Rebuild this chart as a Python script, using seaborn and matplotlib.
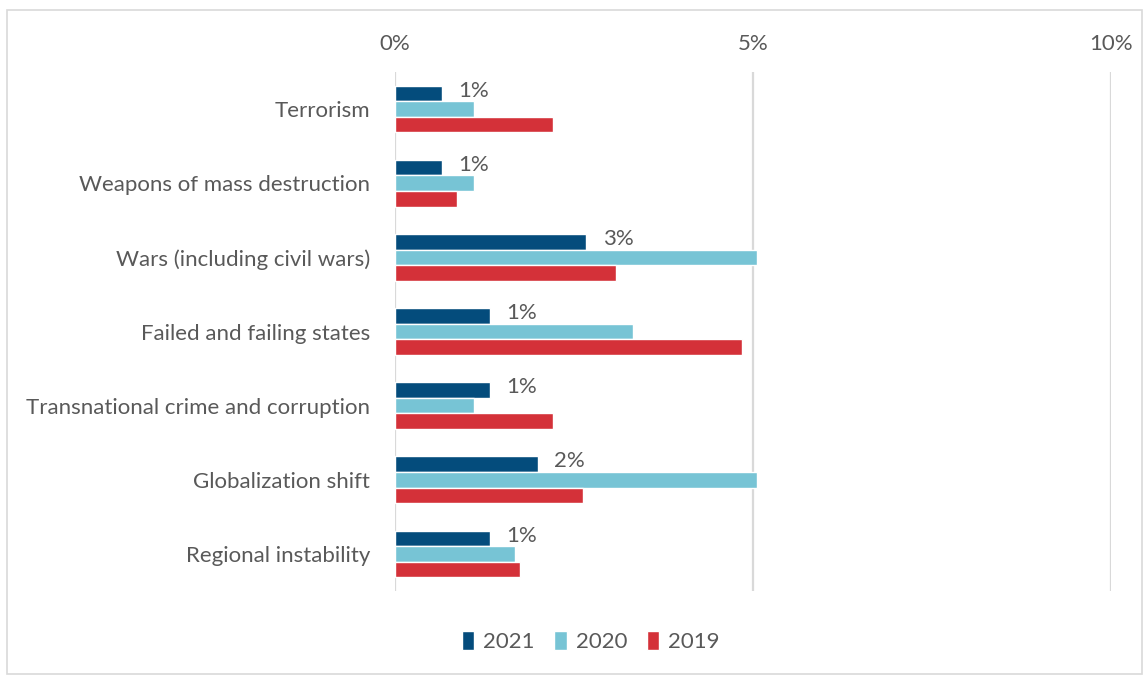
import pandas as pd
import seaborn as sns
import matplotlib.pyplot as plt
from matplotlib.patches import Rectangle
from matplotlib.ticker import FuncFormatter

# --- DATA (percent) ---
CATEGORIES = [
    'Terrorism',
    'Weapons of mass destruction',
    'Wars (including civil wars)',
    'Failed and failing states',
    'Transnational crime and corruption',
    'Globalization shift',
    'Regional instability',
]
YEARS = ['2021', '2020', '2019']
VALUES_2021 = [0.65, 0.65, 2.67, 1.32, 1.32, 1.99, 1.32]
VALUES_2020 = [1.11, 1.11, 5.05, 3.33, 1.11, 5.05, 1.67]
VALUES_2019 = [2.20, 0.86, 3.08, 4.84, 2.20, 2.63, 1.75]
LABELS_2021 = ['1%', '1%', '3%', '1%', '1%', '2%', '1%']
X_TICKS = [0, 5, 10]

COLORS = {'2021': '#044C7C', '2020': '#77C4D5', '2019': '#D43139'}
TEXT_GREY = '#595959'
GRID_GREY = '#D9D9D9'
FS = 16


def build_frame():
    rows = []
    for year, vals in zip(YEARS, [VALUES_2021, VALUES_2020, VALUES_2019]):
        for cat, v in zip(CATEGORIES, vals):
            rows.append({'Category': cat, 'Year': year, 'Value': v})
    return pd.DataFrame(rows)


def main():
    sns.set_style('white')
    plt.rcParams['font.family'] = ['Lato', 'DejaVu Sans']

    df = build_frame()
    fig = plt.figure(figsize=(11.47, 6.77), dpi=100)
    ax = fig.add_axes([0.3444, 0.127, 0.6242, 0.7666])

    sns.barplot(data=df, y='Category', x='Value', hue='Year', order=CATEGORIES,
                hue_order=YEARS, palette=COLORS, orient='h', width=0.63,
                saturation=1, ax=ax, legend=True)

    ax.set_xlim(0, 10)
    ax.set_xticks(X_TICKS)
    ax.xaxis.set_major_formatter(FuncFormatter(lambda v, _: f'{v:.0f}%'))
    ax.xaxis.tick_top()
    ax.tick_params(axis='x', length=0, pad=13, labelsize=FS, labelcolor=TEXT_GREY)
    ax.tick_params(axis='y', length=0, pad=18, labelsize=FS, labelcolor=TEXT_GREY)
    ax.set_xlabel('')
    ax.set_ylabel('')
    for side in ax.spines.values():
        side.set_visible(False)
    ax.grid(True, axis='x', color=GRID_GREY, linewidth=1.6)
    ax.set_axisbelow(True)

    # data labels on the 2021 bars only
    for patch, lab in zip(ax.containers[0], LABELS_2021):
        y = patch.get_y() + patch.get_height() / 2
        ax.annotate(lab, (patch.get_width(), y), xytext=(12, 2),
                    textcoords='offset points', va='center', ha='left',
                    fontsize=FS, color=TEXT_GREY)

    ax.legend(loc='center', bbox_to_anchor=(0.515, 0.052),
              bbox_transform=fig.transFigure, ncol=3, frameon=False,
              fontsize=FS, labelcolor=TEXT_GREY, handlelength=0.55,
              handleheight=0.9, handletextpad=0.4, columnspacing=0.9)

    # light outer frame like the exported chart
    fig.patches.append(Rectangle((0.006, 0.005), 0.99, 0.98, transform=fig.transFigure,
                                 fill=False, edgecolor=GRID_GREY, linewidth=1.2))

    fig.savefig('out.png', dpi=100)


if __name__ == '__main__':
    main()
